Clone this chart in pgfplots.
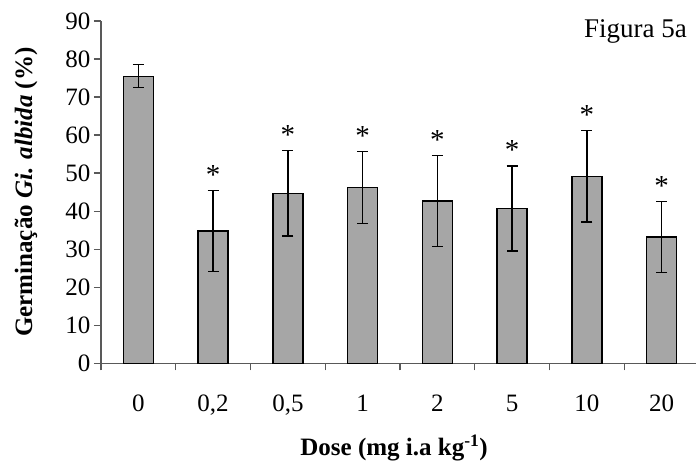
\documentclass[border=0pt]{standalone}
\usepackage{pgfplots}
\usepackage{pgfplotstable}
\pgfplotsset{compat=1.18}
\usepackage{fontspec}
\setmainfont{Liberation Serif}
\definecolor{barfill}{HTML}{A6A6A6}
\definecolor{axisgray}{HTML}{595959}

% dose index, mean germination, error
\pgfplotstableread{
x val err
0 75.5 3.0
1 34.8 10.6
2 44.7 11.2
3 46.2 9.5
4 42.7 12.0
5 40.7 11.2
6 49.2 12.0
7 33.2 9.3
}\germ

\begin{document}
\begin{tikzpicture}[font=\fontsize{25}{30}\selectfont]
\useasboundingbox (-101pt,-100.7pt) rectangle (595pt,363.3pt);
\begin{axis}[
    at={(0,0)}, anchor=south west,
    scale only axis, width=598pt, height=342.3pt,
    xmin=-0.5, xmax=7.5, ymin=0, ymax=90,
    clip=false,
    axis x line=bottom, axis y line=left,
    axis line style={axisgray, line width=1.3pt, -},
    ytick={0,10,...,90},
    xtick={0,...,7},
    xticklabels={0,{0,2},{0,5},1,2,5,10,20},
    minor xtick={-0.5,0.5,...,7.5},
    major x tick style={draw=none},
    tick align=outside,
    major tick length=7pt, minor tick length=7pt,
    tick style={axisgray, line width=1.3pt},
    xticklabel style={anchor=base, yshift=-41.4pt},
    /pgf/number format/assume math mode=true,
    every axis y label/.style={at={(axis description cs:-0.1254,0.5)}, rotate=90, anchor=center},
    every axis x label/.style={at={(axis description cs:0.49,-0.27)}, anchor=base},
    ylabel={\textbf{Germinação \textit{Gi. albida} (\%)}},
    xlabel={\textbf{Dose (mg i.a kg\textsuperscript{-1})}},
  ]
  \addplot[ybar, bar width=30pt, bar shift=0pt, fill=barfill, draw=black, line width=1.3pt,
    error bars/.cd, y dir=both, y explicit,
    error bar style={line width=1.5pt, black},
    error mark options={rotate=90, line width=1.5pt, black, mark size=5.5pt}]
    table[x=x, y=val, y error=err] {\germ};
  \addplot[ybar, bar width=30pt, bar shift=0pt, draw=none, fill=none,
    skip coords between index={0}{1},
    nodes near coords={*},
    every node near coord/.append style={anchor=base, inner sep=0pt, yshift=6pt, black,
      font=\fontsize{29}{34}\selectfont}]
    table[x=x, y expr=\thisrow{val}+\thisrow{err}] {\germ};
  \node[anchor=base east, inner sep=0pt, font=\fontsize{27}{32}\selectfont]
    at (rel axis cs:0.98,0.952) {Figura 5a};
\end{axis}
\end{tikzpicture}
\end{document}
